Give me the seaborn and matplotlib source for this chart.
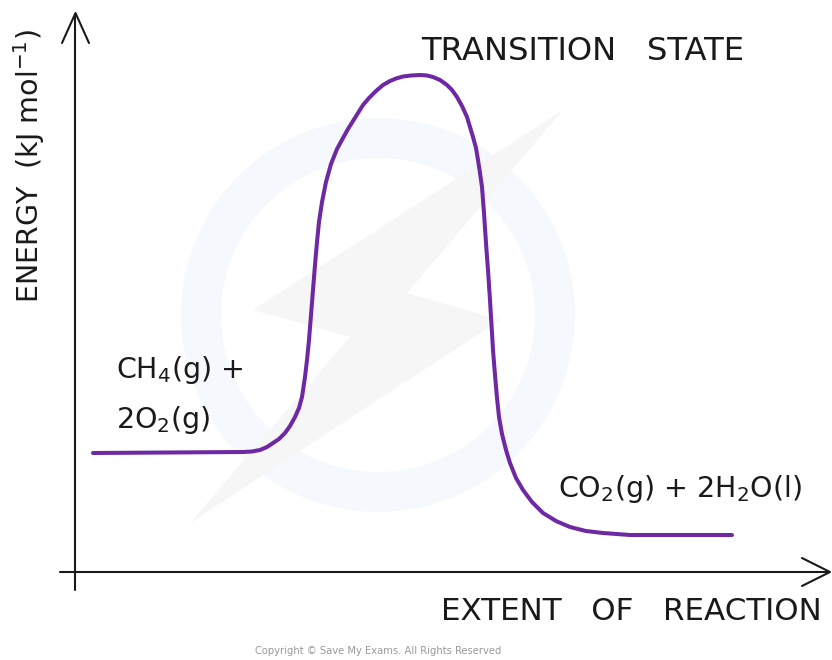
import numpy as np
import pandas as pd
import matplotlib
matplotlib.use("Agg")
import matplotlib.pyplot as plt
import matplotlib.patches as mpatches
import seaborn as sns

# ---------------------------
# DATA (read off the reference, in figure pixels; energy measured upwards)
# ---------------------------
extent = [93, 243, 252, 260, 267, 273, 279, 285, 290, 295, 299, 302, 305,
          307, 309, 311, 313, 315, 317, 319, 322, 326, 331, 337, 343, 348,
          353, 358, 363, 369, 376, 383, 390, 396, 403, 411, 420, 427, 433,
          440, 447, 452, 457, 462, 467, 470, 473, 476, 478, 480, 482, 483,
          484, 485, 486, 487, 488, 489, 490, 491, 492, 493, 495, 497, 499,
          502, 506, 510, 516, 523, 532, 543, 556, 570, 586, 603, 630, 732]
energy = [207, 208, 208.5, 210, 213, 217, 221, 227, 234, 243, 252, 263, 283,
          300, 320, 345, 370, 395, 418, 438, 458, 478, 496, 511, 522, 531,
          539, 547, 555, 562, 569, 575, 579, 581.5, 583.5, 584.5, 585, 584.5,
          583, 580, 575, 570, 563, 554, 543, 533, 523, 512, 500, 487, 473,
          460, 447, 432, 417, 403, 390, 375, 360, 343, 327, 310, 285, 262,
          243, 226, 210, 197, 182, 170, 158, 147, 139, 133, 129, 127, 125,
          125]

reactant_label = ["CH$_4$(g) +", "2O$_2$(g)"]
product_label = "CO$_2$(g) + 2H$_2$O(l)"
peak_label = "TRANSITION   STATE"
x_label = "EXTENT   OF   REACTION"
y_label = "ENERGY  (kJ mol$^{-1}$)"

W, H = 832, 660
CURVE = "#6e28a4"


def main():
    sns.set_style("white")
    plt.rcParams["font.family"] = ["DejaVu Sans"]
    plt.rcParams["mathtext.default"] = "regular"

    fig = plt.figure(figsize=(W / 100, H / 100), dpi=100)
    ax = fig.add_axes([0, 0, 1, 1])

    # very faint watermark (ring + bolt)
    ax.add_patch(mpatches.Annulus((378, H - 315), 197, 40, color="#f5f9fd", lw=0, zorder=0))
    bolt = [(563, 110), (253, 310), (350, 337), (190, 523), (500, 320), (407, 293)]
    ax.add_patch(mpatches.Polygon([(x, H - y) for x, y in bolt], closed=True,
                                  color="#f6f6f7", lw=0, zorder=0))

    # axes with open arrow heads
    ax.plot([75, 75], [H - 590, H - 14], color="#1a1a1a", lw=1.5, zorder=2)
    ax.plot([62, 75.5, 89], [H - 43, H - 13, H - 43], color="#1a1a1a", lw=1.5, zorder=2)
    ax.plot([60, 829], [H - 572, H - 572], color="#1a1a1a", lw=1.5, zorder=2)
    ax.plot([802, 830, 802], [H - 558, H - 572, H - 586], color="#1a1a1a", lw=1.5, zorder=2)

    # energy profile
    df = pd.DataFrame({"extent": extent, "energy": energy})
    sns.lineplot(data=df, x="extent", y="energy", sort=False, estimator=None,
                 color=CURVE, lw=2.9, ax=ax, zorder=3)
    ax.lines[-1].set_solid_capstyle("round")
    ax.lines[-1].set_solid_joinstyle("round")
    ax.set_xlim(0, W)
    ax.set_ylim(0, H)
    ax.axis("off")

    txt = dict(color="#1a1a1a")
    ax.text(583, H - 51, peak_label, ha="center", va="center", fontsize=23.2, **txt)
    ax.text(116, H - 370, reactant_label[0], ha="left", va="center", fontsize=20.5, **txt)
    ax.text(116, H - 420, reactant_label[1], ha="left", va="center", fontsize=20.5, **txt)
    ax.text(558, H - 489, product_label, ha="left", va="center", fontsize=20.5, **txt)
    ax.text(822, H - 612, x_label, ha="right", va="center", fontsize=22.3, **txt)
    ax.text(29, H - 166, y_label, ha="center", va="center", rotation=90, fontsize=20.5, **txt)
    ax.text(378, H - 651, "Copyright \u00a9 Save My Exams. All Rights Reserved",
            ha="center", va="center", color="#9a9a9a", fontsize=7.2)

    fig.savefig("out.png", dpi=100)


if __name__ == "__main__":
    main()
